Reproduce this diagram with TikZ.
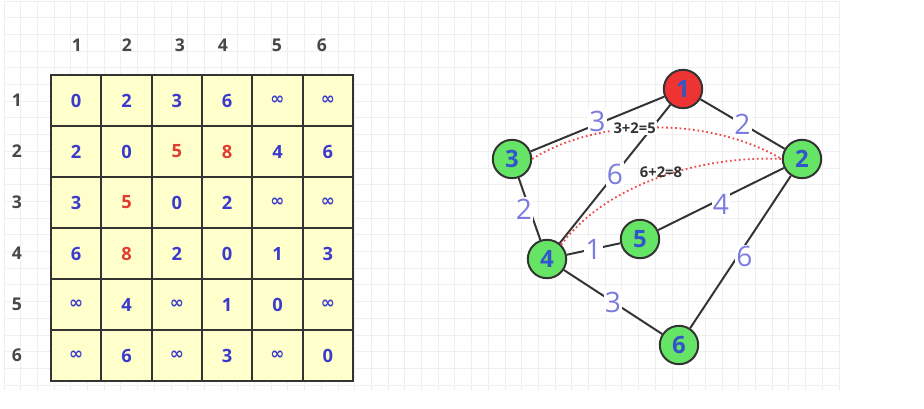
\documentclass[tikz,border=0pt]{standalone}
\usepackage{fontspec}
\setmainfont{Open Sans}
\newfontfamily\symf{DejaVu Sans}
\usetikzlibrary{positioning}
\definecolor{CellFill}{HTML}{FFFFCC}
\definecolor{NumBlue}{HTML}{3A3ACC}
\definecolor{NumRed}{HTML}{E03C31}
\definecolor{EdgeLbl}{HTML}{7B7BE0}
\definecolor{NodeGreen}{HTML}{66E466}
\definecolor{NodeRed}{HTML}{EE3333}
\definecolor{NodeTxt}{HTML}{3355CC}
\definecolor{GridGray}{HTML}{EFEFEF}
\definecolor{Ink}{HTML}{333333}
\newcommand{\redv}[1]{\textcolor{NumRed}{#1}}
\newcommand{\infy}{{\symf\bfseries\fontsize{12}{14}\selectfont ∞}}

\begin{document}
\begin{tikzpicture}[
  x=0.025cm, y=-0.025cm,
  cell/.style={draw=Ink, line width=1.4pt, fill=CellFill, minimum width=12.58mm,
               minimum height=12.75mm, inner sep=0pt, text=NumBlue,
               font=\fontsize{13}{15}\selectfont\bfseries},
  hdr/.style={text=Ink!90, font=\fontsize{12.5}{14}\selectfont\bfseries},
  vtx/.style={circle, draw=Ink, line width=1.4pt, fill=NodeGreen, minimum size=9.6mm,
              inner sep=0pt, text=NodeTxt, font=\fontsize{17}{17}\selectfont\bfseries},
  wedge/.style={draw=Ink, line width=1.4pt},
  wlbl/.style={fill=white, inner sep=1pt, text=EdgeLbl, font=\fontsize{20}{20}\selectfont},
  relax/.style={draw=NodeRed!90, line width=1.3pt, dash pattern=on 1.2pt off 2pt},
  sumlbl/.style={fill=white, inner sep=1pt, text=Ink, font=\fontsize{10.5}{11}\selectfont\bfseries}
]
  % background and grid
  \fill[white] (0,0) rectangle (924,408);
  \useasboundingbox (0,0) rectangle (924,408);
  \foreach \k in {0,...,50}
    \draw[GridGray, line width=0.6pt] ({4+16.7*\k},1) -- ({4+16.7*\k},390);
  \foreach \k in {0,...,23}
    \draw[GridGray, line width=0.6pt] (4,{1+16.7*\k}) -- (840,{1+16.7*\k});

  % distance matrix
  \foreach \hx [count=\j] in {77,127,180,223,277,322}
    \node[hdr] (col-\j) at (\hx,45) {\j};
  \foreach \j in {1,...,6}
    \node[hdr] (row-\j) at (17,{75+51*(\j-0.5)}) {\j};
  \foreach \row [count=\i] in {{0,2,3,6,\infy,\infy},
                               {2,0,\redv{5},\redv{8},4,6},
                               {3,\redv{5},0,2,\infy,\infy},
                               {6,\redv{8},2,0,1,3},
                               {\infy,4,\infy,1,0,\infy},
                               {\infy,6,\infy,3,\infy,0}}
    \foreach \v [count=\j] in \row
      \node[cell] (c-\i-\j) at ({51+50.33*(\j-0.5)},{75+51*(\i-0.5)}) {\v};

  % graph
  \node[vtx, fill=NodeRed] (v1) at (683,89) {1};
  \node[vtx] (v2) at (802,159) {2};
  \node[vtx] (v3) at (512,159) {3};
  \node[vtx] (v4) at (547,259) {4};
  \node[vtx] (v5) at (640,239) {5};
  \node[vtx] (v6) at (679,345) {6};

  \draw[wedge] (v3) -- node[wlbl, yshift=2pt] {3} (v1);
  \draw[wedge] (v1) -- node[wlbl] {2} (v2);
  \draw[wedge] (v1) -- node[wlbl] {6} (v4);
  \draw[wedge] (v3) -- node[wlbl, xshift=-4pt] {2} (v4);
  \draw[wedge] (v4) -- node[wlbl] {1} (v5);
  \draw[wedge] (v5) -- node[wlbl, yshift=-4pt] {4} (v2);
  \draw[wedge] (v2) -- node[wlbl, xshift=5pt, pos=0.53] {6} (v6);
  \draw[wedge] (v4) -- node[wlbl] {3} (v6);

  % relaxed paths through 2
  \draw[relax] (v3.east) .. controls (590,122) and (700,112) .. (v2.west)
    node[sumlbl, pos=0.45] (s1) {3+2=5};
  \draw[relax] (v4.north east) .. controls (605,185) and (700,155) .. (v2.west);
  \node[sumlbl, fill=none] (s2) at (661,172) {6+2=8};
\end{tikzpicture}
\end{document}
